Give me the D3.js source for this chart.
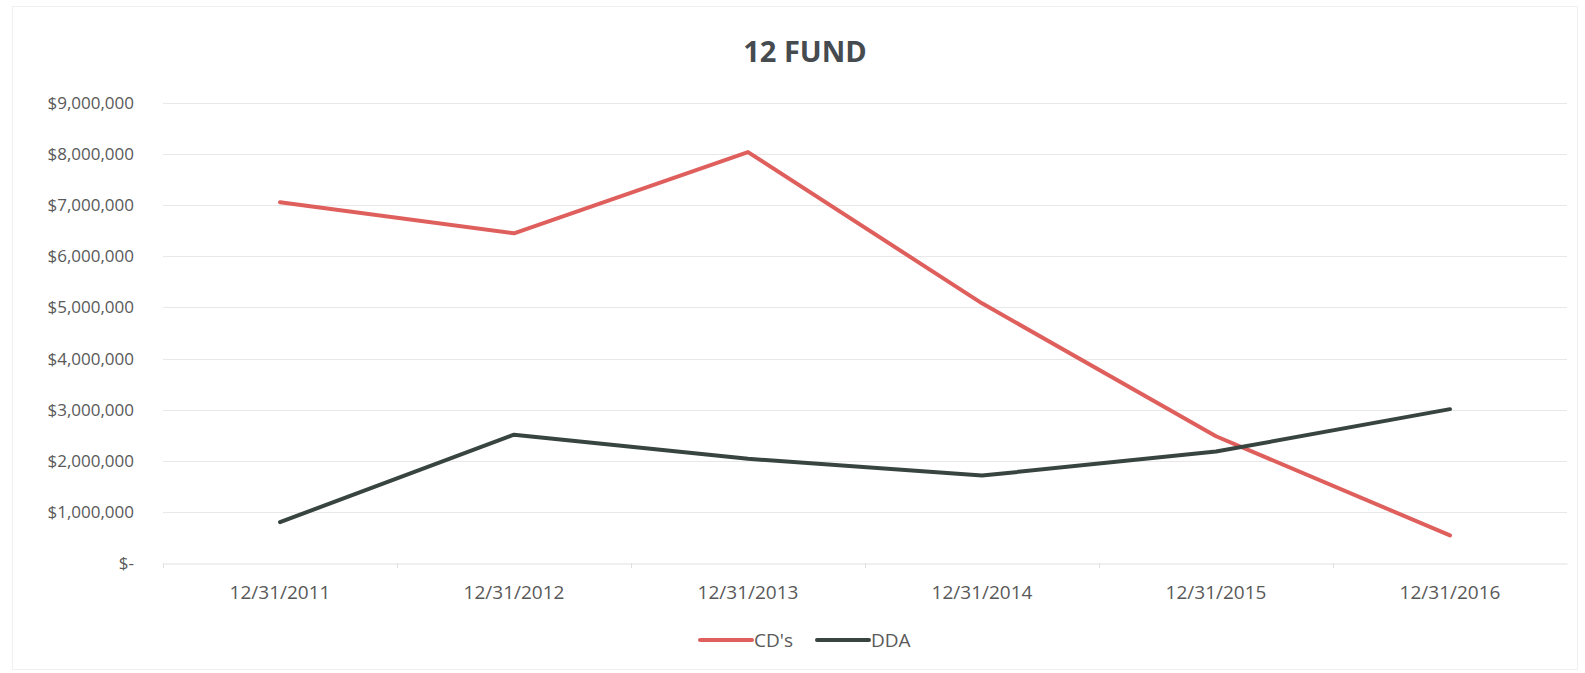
<!DOCTYPE html>
<html>
<head>
<meta charset="utf-8">
<script src="https://cdn.jsdelivr.net/npm/d3@7"></script>
<style>
  body { margin: 0; background: #fff; }
  text { font-family: 'Open Sans', sans-serif; }
</style>
</head>
<body>
<svg id="chart"></svg>
<script>
// data
const categories = ['12/31/2011', '12/31/2012', '12/31/2013', '12/31/2014', '12/31/2015', '12/31/2016']
const cds = [7060000, 6450000, 8040000, 5080000, 2480000, 540000]
const dda = [800000, 2510000, 2040000, 1710000, 2180000, 3010000]
const yTicks = [0, 1000000, 2000000, 3000000, 4000000, 5000000, 6000000, 7000000, 8000000, 9000000]
const seriesNames = ["CD's", 'DDA']

const width = 1585
const height = 673
const margin = {top: 103, right: 18, bottom: 110, left: 163}

const colors = ['#df5f5d', '#38443f']

const svg = d3.select('#chart')
  .attr('width', width)
  .attr('height', height)

// faint chart area border
svg.append('rect')
  .attr('x', 12.5).attr('y', 6.5)
  .attr('width', width - 20).attr('height', height - 10)
  .attr('fill', 'none')
  .attr('stroke', '#f0f0f0')

// x scale
const x = d3.scaleBand()
  .domain(categories)
  .range([margin.left, width - margin.right])

// y scale
const y = d3.scaleLinear()
  .domain([0, 9000000])
  .range([height - margin.bottom, margin.top])

// gridlines
svg.append('g')
  .selectAll('line')
  .data(yTicks.slice(1))
  .join('line')
    .attr('x1', margin.left)
    .attr('x2', width - margin.right)
    .attr('y1', d => Math.round(y(d)) + 0.5)
    .attr('y2', d => Math.round(y(d)) + 0.5)
    .attr('stroke', '#e8e8e8')

// y axis labels
const fmt = d => d === 0 ? '$-' : '$' + d3.format(',')(d)
const yAxis = svg.append('g')
  .attr('transform', 'translate(' + (margin.left - 26) + ',0)')
  .call(d3.axisLeft(y).tickValues(yTicks).tickFormat(fmt).tickSize(0))
yAxis.select('.domain').remove()
yAxis.selectAll('text')
  .attr('font-size', '17px')
  .attr('fill', '#595959')

// x axis
const xAxis = svg.append('g')
  .attr('transform', 'translate(0,' + (Math.round(y(0)) + 0.5) + ')')
  .call(d3.axisBottom(x).tickSize(0).tickPadding(22))
xAxis.select('.domain').attr('stroke', '#e0e0e0')
xAxis.selectAll('text')
  .attr('font-size', '19px')
  .attr('fill', '#595959')

// small ticks between categories
svg.append('g')
  .selectAll('line')
  .data(categories)
  .join('line')
    .attr('x1', d => Math.round(x(d)) + 0.5)
    .attr('x2', d => Math.round(x(d)) + 0.5)
    .attr('y1', Math.round(y(0)))
    .attr('y2', Math.round(y(0)) + 5)
    .attr('stroke', '#e0e0e0')

// title
svg.append('text')
  .attr('x', 805)
  .attr('y', 62)
  .attr('text-anchor', 'middle')
  .attr('font-size', '29px')
  .attr('font-weight', 'bold')
  .attr('fill', '#454b4f')
  .text('12 FUND')

// lines
const line = d3.line()
  .x((d, i) => x(categories[i]) + x.bandwidth() / 2)
  .y(d => y(d))

const allSeries = [cds, dda]
svg.append('g')
  .selectAll('path')
  .data(allSeries)
  .join('path')
    .attr('d', line)
    .attr('fill', 'none')
    .attr('stroke', (d, i) => colors[i])
    .attr('stroke-width', 4)
    .attr('stroke-linejoin', 'round')
    .attr('stroke-linecap', 'round')

// legend
const legendX = [700, 817]
const legend = svg.append('g')
  .selectAll('g')
  .data(seriesNames)
  .join('g')
    .attr('transform', (d, i) => 'translate(' + legendX[i] + ',640)')
legend.append('line')
  .attr('x1', 0).attr('x2', 52)
  .attr('stroke', (d, i) => colors[i])
  .attr('stroke-width', 4)
  .attr('stroke-linecap', 'round')
legend.append('text')
  .attr('x', 54)
  .attr('y', 7)
  .attr('font-size', '19px')
  .attr('fill', '#595959')
  .text(d => d)
</script>
</body>
</html>
